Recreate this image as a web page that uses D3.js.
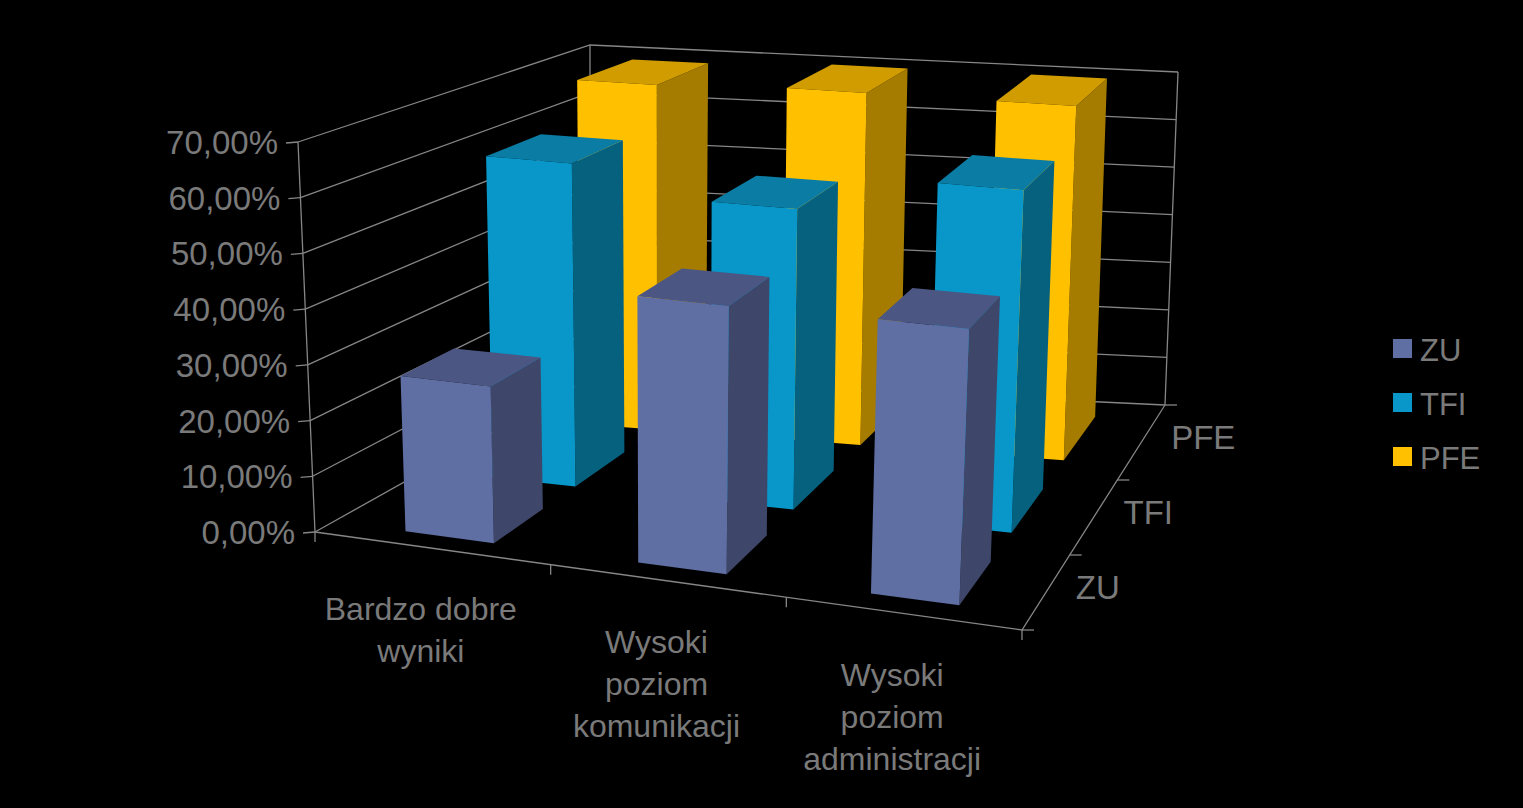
<!DOCTYPE html>
<html><head><meta charset="utf-8">
<script src="https://cdn.jsdelivr.net/npm/d3@7/dist/d3.min.js"></script>
<style>body{margin:0;background:#000}svg{display:block}text{font-family:"Liberation Sans",Arial,sans-serif;fill:#7a7a7a}</style>
</head><body>
<script>
// chart data
const categories = [["Bardzo dobre", "wyniki"], ["Wysoki", "poziom", "komunikacji"], ["Wysoki", "poziom", "administracji"]];
const series = ["ZU", "TFI", "PFE"];
const valuesZU = [0.28, 0.47, 0.475];
const valuesTFI = [0.61, 0.56, 0.63];
const valuesPFE = [0.69, 0.70, 0.70];
const yTicks = [0, 0.1, 0.2, 0.3, 0.4, 0.5, 0.6, 0.7];

const colors = {
  ZU: {front: "#5f6ea3", side: "#3e4669", top: "#4b5683"},
  TFI: {front: "#0897c8", side: "#06617f", top: "#0b7ca3"},
  PFE: {front: "#ffc000", side: "#a67c00", top: "#d09c00"}
};
const allValues = [valuesZU, valuesTFI, valuesPFE];

const W = 1523, H = 808;
const svg = d3.select("body").append("svg").attr("width", W).attr("height", H);

// box corners on screen (floor and 70% plane)
const floor = {fl: [315, 532], fr: [1022, 630], bl: [590, 378], br: [1165, 405]};
const top_ = {fl: [298, 142], fr: [1040, 215], bl: [590, 45], br: [1178, 72]};
const vScale = d3.scaleLinear().domain([0, 0.7]).range([0, 1]);
const xScale = d3.scaleLinear().domain([0, 3]).range([0, 1]);
const zScale = d3.scaleLinear().domain([0, 3]).range([0, 1]);

function bil(c, x, z) {
  const f = d3.interpolate(c.fl, c.fr)(x), b = d3.interpolate(c.bl, c.br)(x);
  return d3.interpolate(f, b)(z);
}
function P(x, z, v) {
  return d3.interpolate(bil(floor, x, z), bil(top_, x, z))(vScale(v));
}
const line = pts => "M" + pts.map(p => p.join(",")).join("L") + "Z";

// walls grid
const grid = svg.append("g").attr("stroke", "#868686").attr("stroke-width", 1.3).attr("fill", "none");
yTicks.forEach(t => {
  const a = P(0, 0, t), b = P(0, 1, t), c = P(1, 1, t);
  grid.append("path").attr("d", `M${a}L${b}L${c}`);
  grid.append("path").attr("d", `M${a}L${[a[0] - 12, a[1] + 1]}`);
  svg.append("text").attr("x", a[0] - 20).attr("y", a[1] + 12).attr("text-anchor", "end")
    .attr("font-size", 33).text(d3.format(".2f")(t * 100).replace(".", ",") + "%");
});
grid.append("path").attr("d", `M${P(0, 0, 0)}L${P(0, 0, 0.7)}`);
grid.append("path").attr("d", `M${P(0, 1, 0)}L${P(0, 1, 0.7)}`);
grid.append("path").attr("d", `M${P(1, 1, 0)}L${P(1, 1, 0.7)}`);
// floor axes
grid.append("path").attr("d", `M${P(0, 0, 0)}L${P(1, 0, 0)}L${P(1, 1, 0)}`);
[0, 1, 2, 3].forEach(i => {
  const a = P(xScale(i), 0, 0);
  grid.append("path").attr("d", `M${a}L${[a[0], a[1] + 10]}`);
  const b = P(1, zScale(i), 0);
  grid.append("path").attr("d", `M${b}L${[b[0] + 12, b[1]]}`);
});

// bars, back rows first
const gapX = 0.31, gapZ = 0.2;
for (let j = 2; j >= 0; j--) {
  const c = colors[series[j]];
  allValues[j].forEach((v, i) => {
    const x0 = xScale(i + gapX), x1 = xScale(i + 1 - gapX);
    const z0 = zScale(j + gapZ), z1 = zScale(j + 1 - gapZ);
    const g = svg.append("g");
    g.append("path").attr("fill", c.side).attr("d", line([P(x1, z0, 0), P(x1, z1, 0), P(x1, z1, v), P(x1, z0, v)]));
    g.append("path").attr("fill", c.top).attr("d", line([P(x0, z0, v), P(x1, z0, v), P(x1, z1, v), P(x0, z1, v)]));
    g.append("path").attr("fill", c.front).attr("d", line([P(x0, z0, 0), P(x1, z0, 0), P(x1, z0, v), P(x0, z0, v)]));
  });
}

// category labels
categories.forEach((lines, i) => {
  const a = P(xScale(i + 0.5), 0, 0);
  const t = svg.append("text").attr("text-anchor", "middle").attr("font-size", 32);
  lines.forEach((l, k) => t.append("tspan").attr("x", a[0] - 12).attr("y", a[1] + 72 + k * 42).text(l));
});
// depth labels
series.forEach((s, j) => {
  const b = P(1, zScale(j + 0.5), 0);
  svg.append("text").attr("x", b[0] + 30).attr("y", b[1] + 6).attr("font-size", 33).text(s);
});

// legend
series.forEach((s, j) => {
  const y = 350 + j * 54;
  svg.append("rect").attr("x", 1393).attr("y", y - 11).attr("width", 19).attr("height", 19).attr("fill", colors[s].front);
  svg.append("text").attr("x", 1420).attr("y", y + 11).attr("font-size", 31).text(s);
});
</script>
</body></html>
